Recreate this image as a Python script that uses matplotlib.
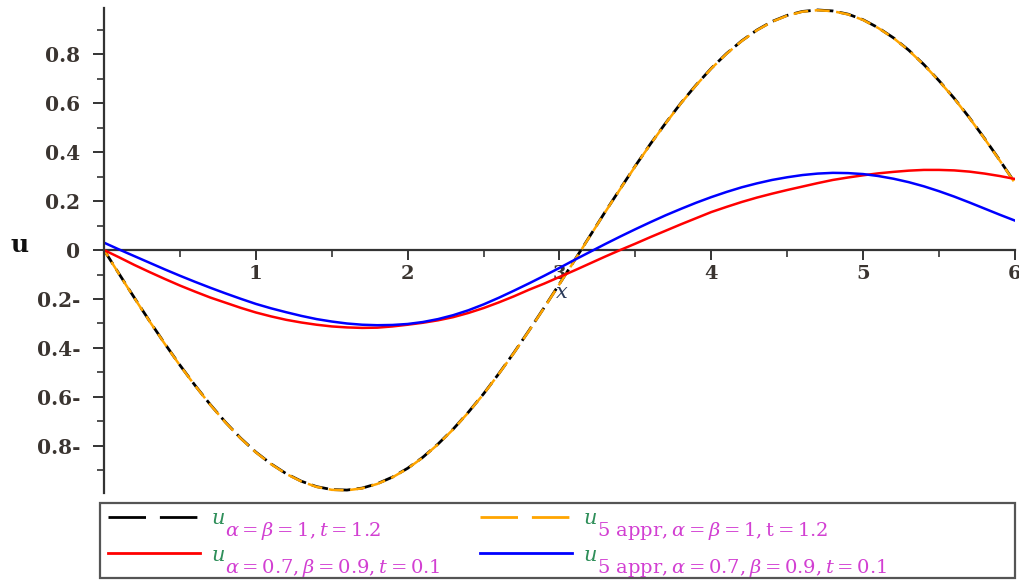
import matplotlib
matplotlib.use("Agg")
import matplotlib.pyplot as plt
from matplotlib.lines import Line2D
from matplotlib.patches import Rectangle
from matplotlib.ticker import MultipleLocator, FixedLocator, FixedFormatter

# ---------------- data ----------------
x_vals = [0.0, 0.1, 0.2, 0.3, 0.4, 0.5, 0.6, 0.7, 0.8, 0.9,
          1.0, 1.1, 1.2, 1.3, 1.4, 1.5, 1.6, 1.7, 1.8, 1.9,
          2.0, 2.1, 2.2, 2.3, 2.4, 2.5, 2.6, 2.7, 2.8, 2.9,
          3.0, 3.1, 3.2, 3.3, 3.4, 3.5, 3.6, 3.7, 3.8, 3.9,
          4.0, 4.1, 4.2, 4.3, 4.4, 4.5, 4.6, 4.7, 4.8, 4.9,
          5.0, 5.1, 5.2, 5.3, 5.4, 5.5, 5.6, 5.7, 5.8, 5.9, 6.0]

u_exact_1 = [0.0, -0.098, -0.195, -0.290, -0.382, -0.470, -0.553, -0.631, -0.703, -0.768,
             -0.825, -0.873, -0.913, -0.944, -0.966, -0.978, -0.980, -0.972, -0.954, -0.927,
             -0.891, -0.846, -0.792, -0.731, -0.662, -0.587, -0.505, -0.419, -0.328, -0.234,
             -0.138, -0.041, 0.057, 0.155, 0.250, 0.344, 0.434, 0.519, 0.600, 0.674,
             0.742, 0.802, 0.854, 0.898, 0.933, 0.958, 0.974, 0.980, 0.976, 0.963,
             0.940, 0.907, 0.866, 0.816, 0.757, 0.691, 0.619, 0.540, 0.455, 0.366, 0.274]
u_appr_1 = [0.0, -0.099, -0.196, -0.291, -0.383, -0.471, -0.554, -0.632, -0.704, -0.769,
            -0.826, -0.874, -0.914, -0.945, -0.967, -0.979, -0.981, -0.973, -0.955, -0.928,
            -0.892, -0.847, -0.793, -0.732, -0.663, -0.588, -0.506, -0.420, -0.329, -0.235,
            -0.139, -0.042, 0.056, 0.154, 0.249, 0.343, 0.433, 0.518, 0.599, 0.673,
            0.741, 0.801, 0.853, 0.897, 0.932, 0.957, 0.973, 0.979, 0.975, 0.962,
            0.939, 0.906, 0.865, 0.815, 0.756, 0.690, 0.618, 0.539, 0.454, 0.365, 0.273]
u_exact_2 = [0.0, -0.030, -0.061, -0.090, -0.118, -0.145, -0.170, -0.194, -0.215, -0.236,
             -0.255, -0.271, -0.285, -0.296, -0.305, -0.312, -0.316, -0.318, -0.317, -0.312,
             -0.305, -0.297, -0.287, -0.274, -0.257, -0.237, -0.214, -0.189, -0.162, -0.137,
             -0.110, -0.083, -0.055, -0.027, 0.0, 0.026, 0.053, 0.079, 0.105, 0.130,
             0.155, 0.176, 0.196, 0.214, 0.230, 0.245, 0.259, 0.273, 0.286, 0.296,
             0.305, 0.313, 0.319, 0.324, 0.327, 0.327, 0.325, 0.320, 0.312, 0.302, 0.290]
u_appr_2 = [0.030, 0.002, -0.025, -0.052, -0.079, -0.105, -0.130, -0.154, -0.177, -0.199,
            -0.220, -0.238, -0.254, -0.269, -0.282, -0.292, -0.300, -0.305, -0.307, -0.306,
            -0.302, -0.294, -0.282, -0.266, -0.246, -0.222, -0.195, -0.166, -0.136, -0.105,
            -0.073, -0.040, -0.008, 0.024, 0.055, 0.085, 0.114, 0.142, 0.168, 0.193,
            0.216, 0.237, 0.256, 0.272, 0.286, 0.297, 0.306, 0.312, 0.315, 0.314,
            0.310, 0.302, 0.291, 0.277, 0.260, 0.240, 0.218, 0.194, 0.169, 0.144, 0.120]

x_ticks = [1, 2, 3, 4, 5, 6]
x_tick_labels = ["1", "2", "3", "4", "5", "6"]
y_ticks = [-0.8, -0.6, -0.4, -0.2, 0.0, 0.2, 0.4, 0.6, 0.8]
y_tick_labels = ["0.8-", "0.6-", "0.4-", "0.2-", "0", "0.2", "0.4", "0.6", "0.8"]

legend_main = ["u", "u", "u", "u"]
sub_labels = [
    r"$\alpha = \beta = 1, \mathit{t} = 1.2$",
    r"$\alpha = 0.7, \beta = 0.9, \mathit{t} = 0.1$",
    r"$5\ \mathrm{appr}, \alpha = \beta = 1, \mathrm{t} = 1.2$",
    r"$5\ \mathrm{appr}, \alpha = 0.7, \beta = 0.9, \mathit{t} = 0.1$",
]

# ---------------- figure ----------------
plt.rcParams['mathtext.fontset'] = 'dejavuserif'
W, H = 1020, 582
fig = plt.figure(figsize=(W / 100, H / 100), dpi=100)
ax = fig.add_axes([104 / W, 1 - 493 / H, 911 / W, 485 / H])

AX_COL = "#333333"
TXT_COL = "#3a3430"

ax.plot(x_vals, u_exact_1, color="black", lw=2.0, linestyle=(0, (6, 2.2)))
ax.plot(x_vals, u_appr_1, color="#ffa500", lw=1.8, linestyle=(3, (6, 2.6)))
ax.plot(x_vals, u_exact_2, color="#ff0000", lw=1.8)
ax.plot(x_vals, u_appr_2, color="#0000ff", lw=1.8)

ax.set_xlim(0, 6)
ax.set_ylim(-0.992, 0.988)

for s in ["top", "right"]:
    ax.spines[s].set_visible(False)
ax.spines["bottom"].set_position(("data", 0))
ax.spines["left"].set_position(("data", 0))
for s in ["bottom", "left"]:
    ax.spines[s].set_color(AX_COL)
    ax.spines[s].set_linewidth(1.6)
ax.spines["bottom"].set_zorder(0.5)

ax.xaxis.set_major_locator(FixedLocator(x_ticks))
ax.xaxis.set_major_formatter(FixedFormatter(x_tick_labels))
ax.xaxis.set_minor_locator(MultipleLocator(0.5))
ax.yaxis.set_major_locator(FixedLocator(y_ticks))
ax.yaxis.set_major_formatter(FixedFormatter(y_tick_labels))
ax.yaxis.set_minor_locator(MultipleLocator(0.1))

ax.tick_params(axis="x", which="major", direction="out", length=7, width=1.4,
               color=AX_COL, labelsize=14, labelcolor=TXT_COL, pad=4)
ax.tick_params(axis="x", which="minor", direction="out", length=5, width=1.2, color=AX_COL)
ax.tick_params(axis="y", which="major", direction="out", length=8, width=1.4,
               color=AX_COL, labelsize=14.5, labelcolor=TXT_COL, pad=9)
ax.tick_params(axis="y", which="minor", direction="out", length=5, width=1.2, color=AX_COL)
for lab in ax.get_xticklabels() + ax.get_yticklabels():
    lab.set_fontfamily("DejaVu Serif")
    lab.set_fontweight("bold")

ax.set_xlabel("x", fontsize=15, fontfamily="DejaVu Serif", fontstyle="italic",
              color="#2a3a5a", va="center")
ax.xaxis.set_label_coords(0.503, 0.414)
fig.text(10 / W, 1 - 245 / H, "u", fontsize=18, fontweight="bold",
         fontfamily="DejaVu Serif", color="#111111", va="center", ha="left")

# ---------------- legend ----------------
fig.patches.append(Rectangle((100 / W, 1 - 578 / H), 915 / W, 75 / H,
                             transform=fig.transFigure, fill=False,
                             edgecolor="#555555", lw=1.6))

h_black = Line2D([], [], color="black", lw=2.0, linestyle=(0, (13.5, 5)))
h_red = Line2D([], [], color="#ff0000", lw=2.0)
h_orange = Line2D([], [], color="#ffa500", lw=2.0, linestyle=(0, (13.5, 5)))
h_blue = Line2D([], [], color="#0000ff", lw=2.0)

leg_kw = dict(frameon=False, handlelength=4.4, handletextpad=0.55,
              labelspacing=0.85, borderaxespad=0, borderpad=0, loc="upper left",
              prop=dict(family="DejaVu Serif", style="italic", size=15))
leg1 = fig.legend([h_black, h_red], legend_main[:2],
                  bbox_to_anchor=(108 / W, 1 - 509 / H), **leg_kw)
leg2 = fig.legend([h_orange, h_blue], legend_main[2:],
                  bbox_to_anchor=(480 / W, 1 - 509 / H), **leg_kw)
for leg in (leg1, leg2):
    for t in leg.get_texts():
        t.set_color("#2f8f5a")

fig.canvas.draw()
renderer = fig.canvas.get_renderer()
texts = leg1.get_texts() + leg2.get_texts()
for t, s in zip(texts, sub_labels):
    bb = t.get_window_extent(renderer)
    fig.text((bb.x0 + 14) / W, (bb.y0 + 8) / H, s, fontsize=14,
             color="#d23fd2", va="top", ha="left")

fig.savefig("out.png", dpi=100)
